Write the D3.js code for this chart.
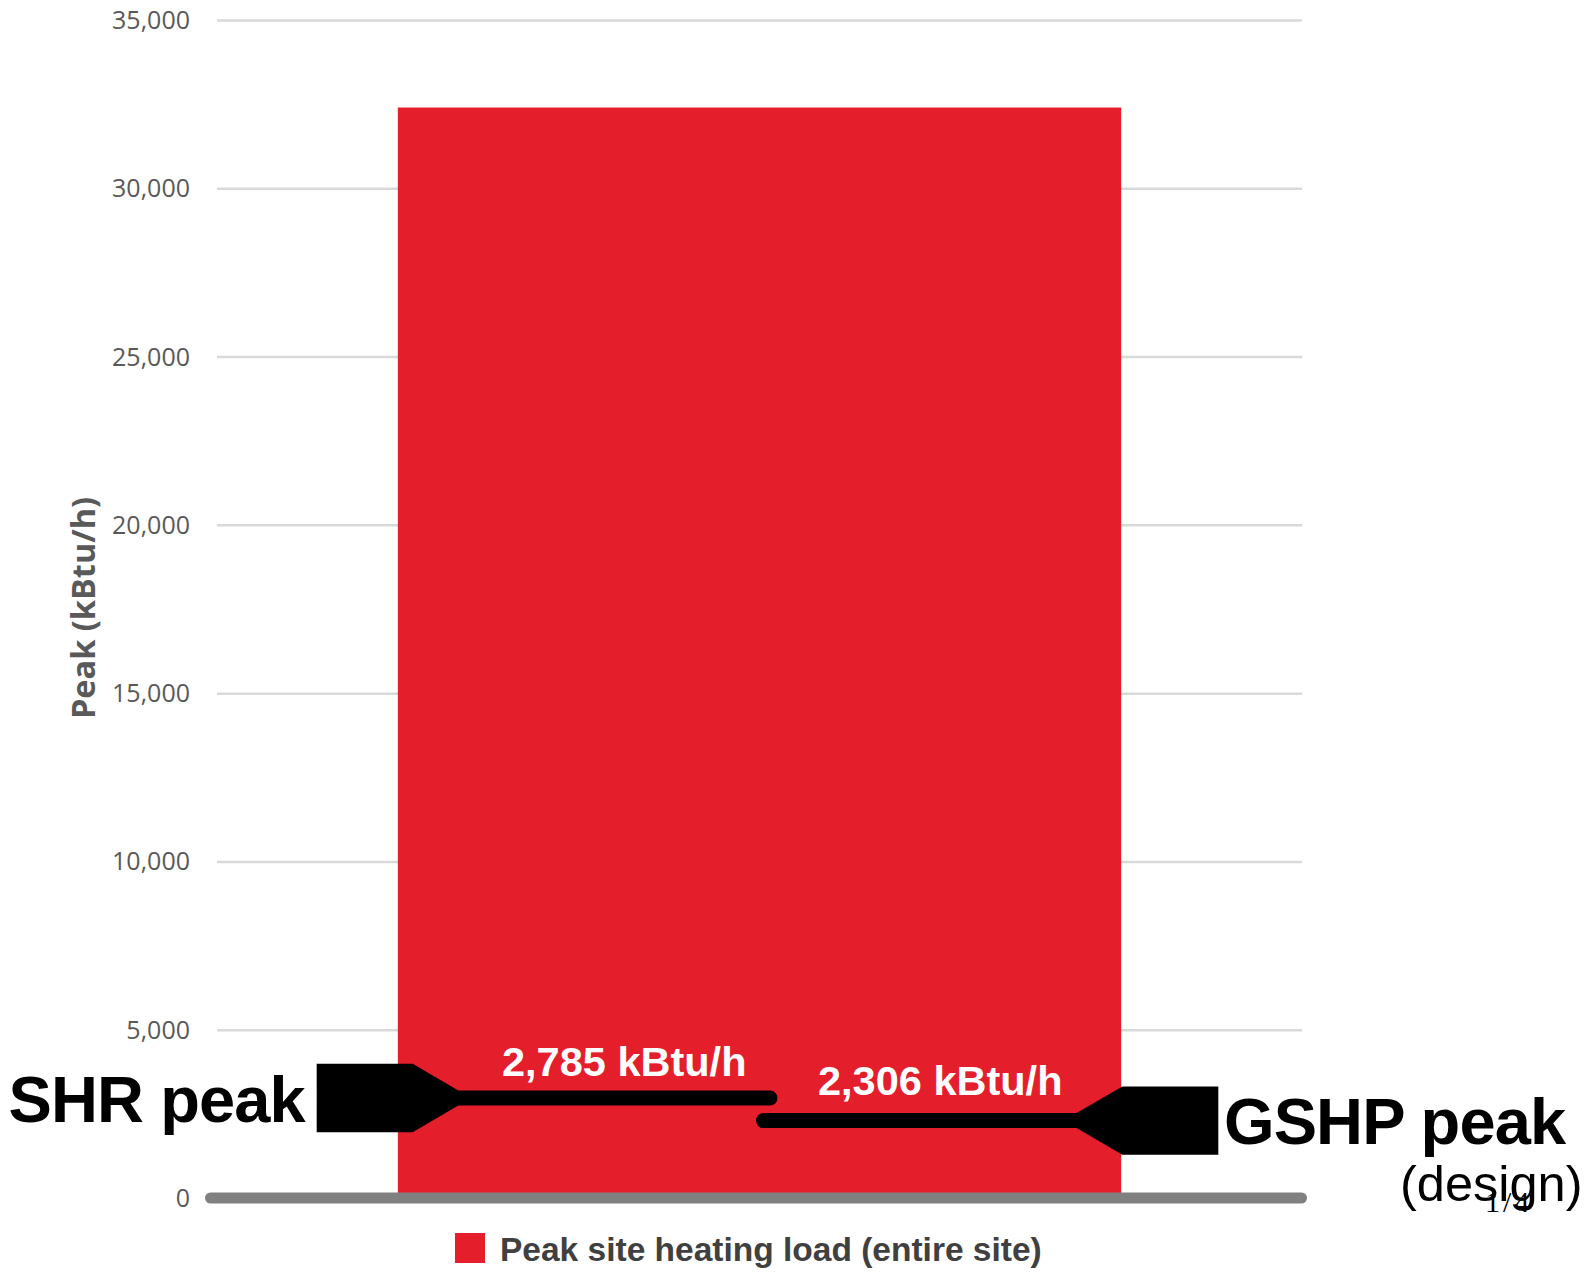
<!DOCTYPE html>
<html>
<head>
<meta charset="utf-8">
<script src="https://cdn.jsdelivr.net/npm/d3@7"></script>
<style>
  html, body { margin: 0; padding: 0; background: #ffffff; }
  svg { display: block; }
</style>
</head>
<body>
<svg id="chart" width="1584" height="1272"></svg>
<script>
// ---- data ----
const categories = ["Peak site heating load (entire site)"];
const peakValues = [32400];
const yTicks = [0, 5000, 10000, 15000, 20000, 25000, 30000, 35000];
const annotationNames = ["SHR peak", "GSHP peak"];
const annotationLabels = ["2,785 kBtu/h", "2,306 kBtu/h"];
const annotationLevels = [2970, 2300];   // marker heights
const legendLabels = ["Peak site heating load (entire site)"];

// ---- layout ----
const W = 1584, H = 1272;
const plot = { left: 217, right: 1302, top: 20, bottom: 1198 };
const barColor = "#e41e2a";

const svg = d3.select("#chart");

const x = d3.scaleBand().domain(categories)
  .range([plot.left, plot.right]).paddingInner(0).paddingOuter(0.25);
const y = d3.scaleLinear().domain([0, 35000]).range([plot.bottom, plot.top]);

// gridlines + tick labels
const yAxis = d3.axisLeft(y)
  .tickValues(yTicks)
  .tickFormat(d3.format(","))
  .tickSize(-(plot.right - plot.left))
  .tickPadding(27);
const gAxis = svg.append("g")
  .attr("transform", `translate(${plot.left},0)`)
  .call(yAxis);
gAxis.select(".domain").remove();
gAxis.selectAll(".tick line").attr("stroke", "#d9d9d9").attr("stroke-width", 2.5);
gAxis.selectAll(".tick text")
  .attr("fill", "#595959")
  .style("font-family", "'Open Sans', sans-serif")
  .style("font-size", "25px")
  .attr("dy", "0.34em");

// y axis title
svg.append("text")
  .attr("transform", `translate(84,608) rotate(-90)`)
  .attr("text-anchor", "middle")
  .attr("dy", "0.35em")
  .attr("fill", "#595959")
  .style("font-family", "'Open Sans', sans-serif")
  .style("font-weight", 700)
  .style("font-size", "32.5px")
  .text("Peak (kBtu/h)");

// bar
svg.append("g").selectAll("rect")
  .data(categories)
  .join("rect")
  .attr("x", d => x(d))
  .attr("width", x.bandwidth())
  .attr("y", (d, i) => y(peakValues[i]))
  .attr("height", (d, i) => y(0) - y(peakValues[i]))
  .attr("fill", barColor);

// baseline
svg.append("line")
  .attr("x1", 210.5).attr("x2", 1301.5)
  .attr("y1", y(0)).attr("y2", y(0))
  .attr("stroke", "#808080")
  .attr("stroke-width", 11)
  .attr("stroke-linecap", "round");

// annotation markers
const lw = 15;
// SHR (points right)
{
  const cy = y(annotationLevels[0]);
  const x0 = 316.7, x1 = 412.7, x2 = 458.3, xEnd = 770;
  const hh = 34.3;
  svg.append("path")
    .attr("d", `M${x0},${cy - hh} L${x1},${cy - hh} L${x2},${cy - lw / 2} L${x2},${cy + lw / 2} L${x1},${cy + hh} L${x0},${cy + hh} Z`)
    .attr("fill", "#000");
  svg.append("line")
    .attr("x1", x2 - 2).attr("x2", xEnd)
    .attr("y1", cy).attr("y2", cy)
    .attr("stroke", "#000").attr("stroke-width", lw).attr("stroke-linecap", "round");
}
// GSHP (points left)
{
  const cy = y(annotationLevels[1]);
  const x0 = 1218.3, x1 = 1122.3, x2 = 1076.7, xEnd = 763.5;
  const hh = 34.2;
  svg.append("path")
    .attr("d", `M${x0},${cy - hh} L${x1},${cy - hh} L${x2},${cy - lw / 2} L${x2},${cy + lw / 2} L${x1},${cy + hh} L${x0},${cy + hh} Z`)
    .attr("fill", "#000");
  svg.append("line")
    .attr("x1", x2 + 2).attr("x2", xEnd)
    .attr("y1", cy).attr("y2", cy)
    .attr("stroke", "#000").attr("stroke-width", lw).attr("stroke-linecap", "round");
}

// value labels (white, on bar)
const labelPos = [{ x: 502, y: 1076 }, { x: 818, y: 1095 }];
svg.append("g").selectAll("text")
  .data(annotationLabels)
  .join("text")
  .attr("x", (d, i) => labelPos[i].x)
  .attr("y", (d, i) => labelPos[i].y)
  .attr("fill", "#ffffff")
  .style("font-family", "'Liberation Sans', Arial, sans-serif")
  .style("font-weight", 700)
  .style("font-size", "41.5px")
  .text(d => d);

// big annotation names
const namePos = [{ x: 8.5, y: 1121.7, ls: -0.9 }, { x: 1224, y: 1143.5, ls: -0.9 }];
svg.append("g").selectAll("text")
  .data(annotationNames)
  .join("text")
  .attr("x", (d, i) => namePos[i].x)
  .attr("y", (d, i) => namePos[i].y)
  .attr("fill", "#000")
  .style("font-family", "'Liberation Sans', Arial, sans-serif")
  .style("font-weight", 700)
  .style("font-size", "65px")
  .style("letter-spacing", (d, i) => namePos[i].ls + "px")
  .text(d => d);

svg.append("text")
  .attr("x", 1400).attr("y", 1201)
  .attr("fill", "#000")
  .style("font-family", "'Liberation Sans', Arial, sans-serif")
  .style("font-size", "50.5px")
  .text("(design)");

svg.append("text")
  .attr("x", 1485).attr("y", 1212)
  .attr("fill", "#000")
  .style("font-family", "'Liberation Serif', 'Times New Roman', serif")
  .style("font-size", "30px")
  .style("letter-spacing", "3px")
  .text("1/4");

// legend
const legend = svg.append("g").selectAll("g")
  .data(legendLabels)
  .join("g");
legend.append("rect")
  .attr("x", 455).attr("y", 1233)
  .attr("width", 30).attr("height", 30)
  .attr("fill", barColor);
legend.append("text")
  .attr("x", 500).attr("y", 1261)
  .attr("fill", "#404040")
  .style("font-family", "'Liberation Sans', Arial, sans-serif")
  .style("font-weight", 700)
  .style("font-size", "33.5px")
  .text(d => d);
</script>
</body>
</html>
